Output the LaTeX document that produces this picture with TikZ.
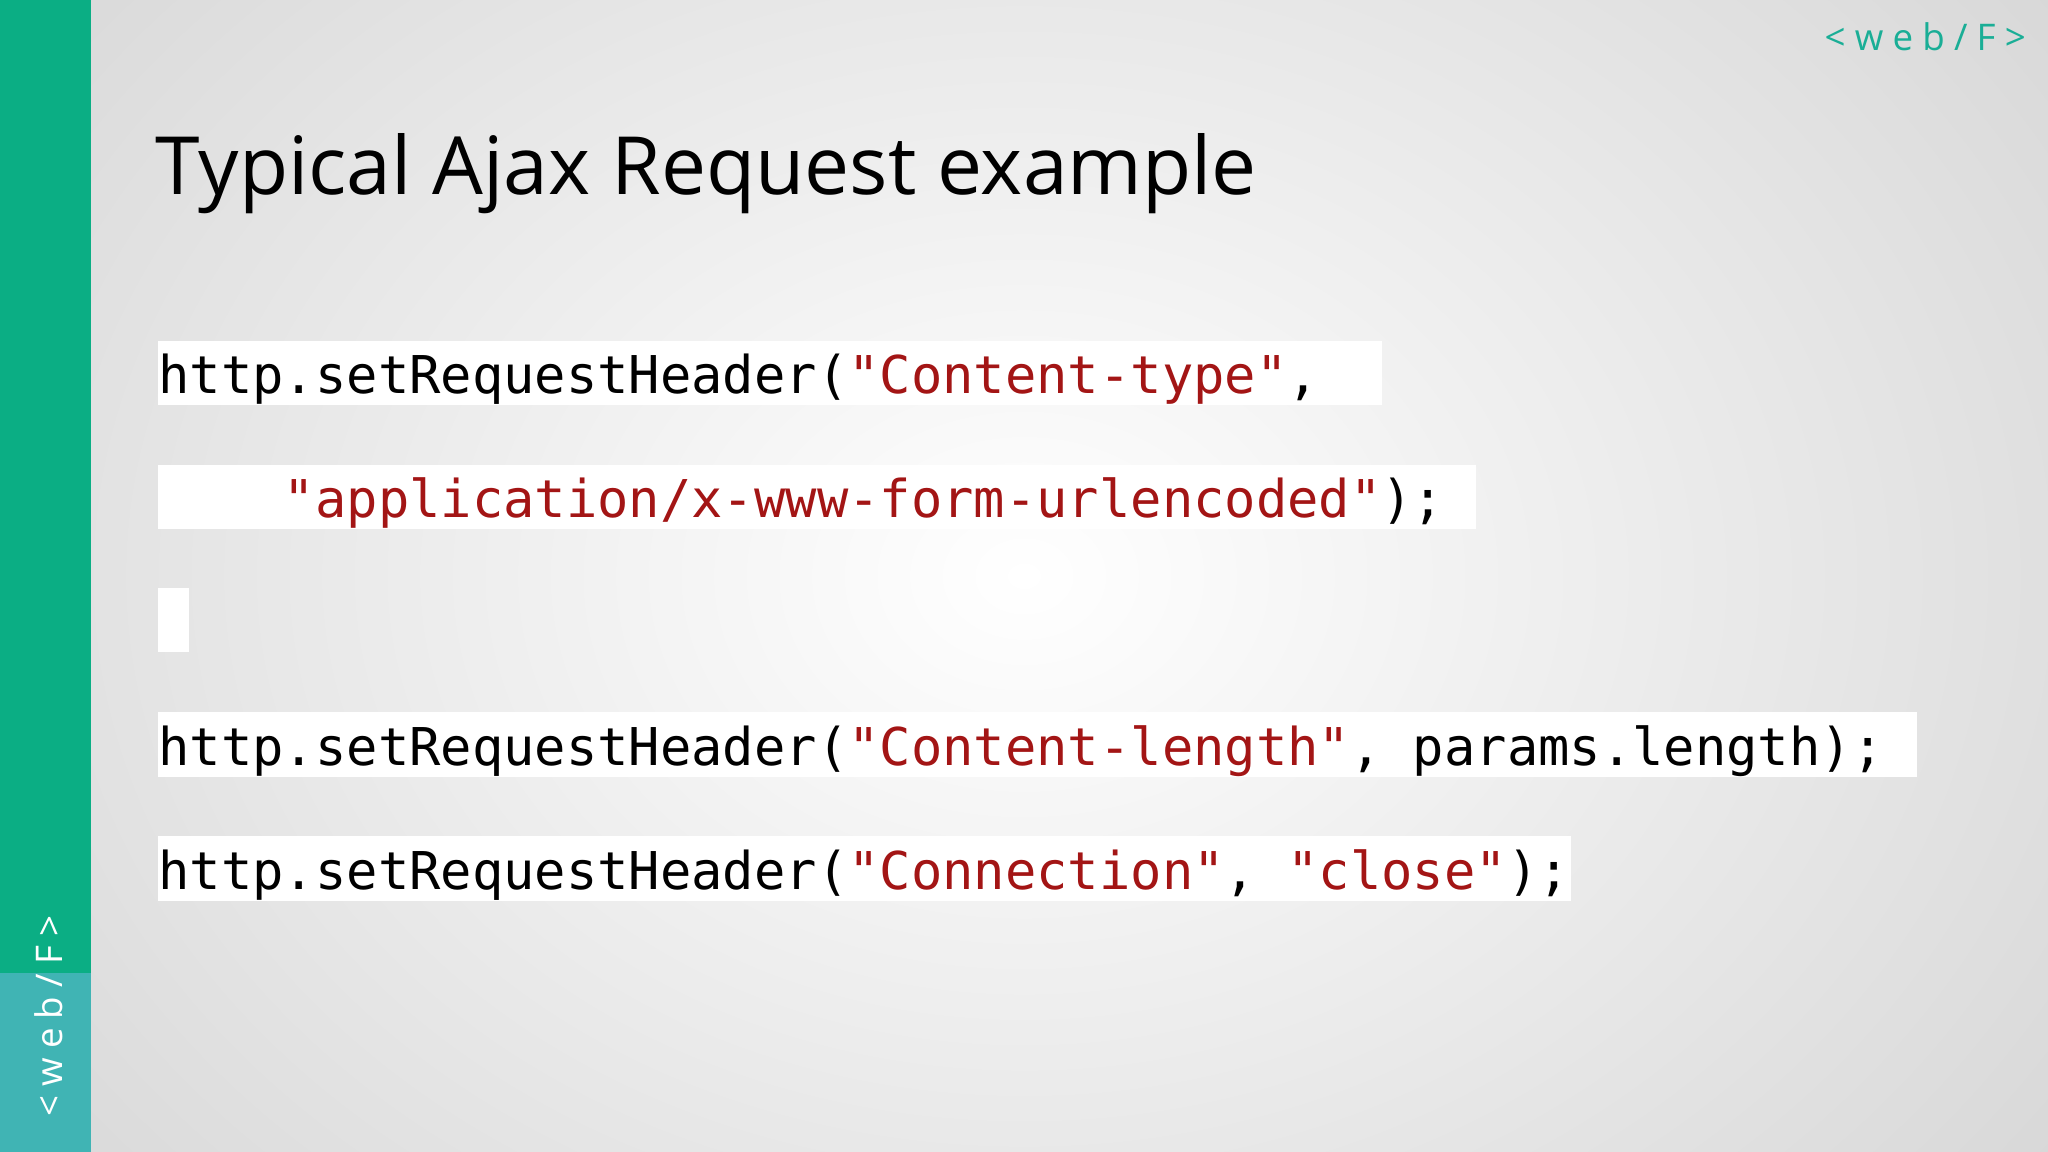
\documentclass[tikz,border=0pt]{standalone}
\usepackage{fontspec}
\setmainfont{Open Sans}
\setmonofont{DejaVu Sans Mono}
\definecolor{sidegreen}{HTML}{0BAE84}
\definecolor{sideteal}{HTML}{40B4B4}
\definecolor{logo}{HTML}{1AAE96}
\definecolor{str}{HTML}{A31515}
\begin{document}
\begin{tikzpicture}[x=0.02cm,y=-0.02cm,
  codebox/.style={fill=white,draw=none},
  code/.style={anchor=west,inner sep=0pt,font=\fontsize{22.7}{26}\ttfamily}]
\useasboundingbox (0,0) rectangle (1568,882);
\shade[inner color=white,outer color=black!17] (-300,-400) rectangle (1868,1282);
\fill[sidegreen] (0,0) rectangle (70,882);
\fill[sideteal] (0,745) rectangle (70,882);
\node[rotate=90,text=white,font=\fontsize{16}{18}\selectfont] (sidelogo) at (37,778) {\addfontfeature{LetterSpace=25}<web/F>};
\node[text=logo,font=\fontsize{16}{18}\selectfont] (toplogo) at (1474,28) {\addfontfeature{LetterSpace=25}<web/F>};
\node[anchor=west,inner sep=0pt,font=\fontsize{35}{40}\selectfont] (title) at (119,133) {Typical Ajax Request example};
\fill[codebox] (121,261) rectangle (1058,310);
\fill[codebox] (121,356) rectangle (1130,405);
\fill[codebox] (121,450) rectangle (145,499);
\fill[codebox] (121,545) rectangle (1468,595);
\fill[codebox] (121,640) rectangle (1203,690);
\node[code] (l1) at (121,290) {http.setRequestHeader(\textcolor{str}{"Content-type"},};
\node[code] (l2) at (121,385) {\ \ \ \ \textcolor{str}{"application/x-www-form-urlencoded"});};
\node[code] (l4) at (121,575) {http.setRequestHeader(\textcolor{str}{"Content-length"}, params.length);};
\node[code] (l5) at (121,670) {http.setRequestHeader(\textcolor{str}{"Connection"}, \textcolor{str}{"close"});};
\end{tikzpicture}
\end{document}
